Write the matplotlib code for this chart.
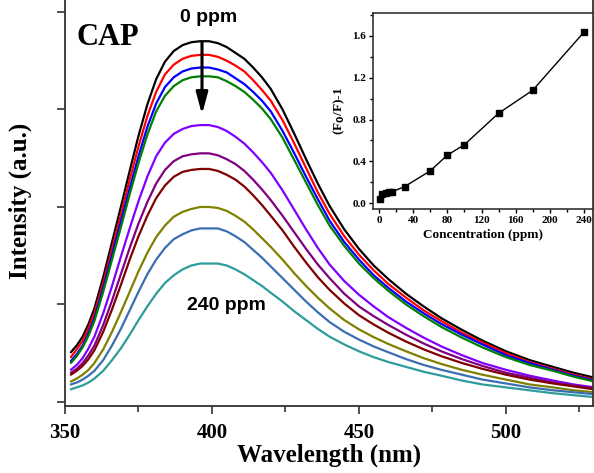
import matplotlib
matplotlib.use("Agg")
import matplotlib.pyplot as plt
from matplotlib.ticker import MultipleLocator, NullFormatter, FormatStrFormatter

serif = "Liberation Serif"
sans = "Liberation Sans"

# emission spectra, intensity in arbitrary units
wavelength = [352, 354, 356, 358, 360, 363, 366, 369, 372, 375, 378, 381, 384, 387, 390,
              393, 396, 399, 402, 405, 408, 411, 414, 417, 420, 424, 428, 432, 436, 440,
              445, 450, 455, 460, 466, 472, 478, 485, 492, 500, 508, 516, 523, 530]

i_black = [0.51, 0.58, 0.67, 0.80, 0.96, 1.28, 1.64, 2.00, 2.37, 2.73, 3.05, 3.31, 3.49, 3.60, 3.66,
           3.69, 3.70, 3.70, 3.68, 3.64, 3.58, 3.52, 3.43, 3.33, 3.21, 3.00, 2.75, 2.49, 2.24, 2.01,
           1.77, 1.57, 1.40, 1.26, 1.11, 0.98, 0.86, 0.74, 0.63, 0.52, 0.43, 0.36, 0.30, 0.25]
i_red = [0.46, 0.54, 0.63, 0.76, 0.91, 1.22, 1.57, 1.92, 2.28, 2.62, 2.93, 3.18, 3.36, 3.46, 3.52,
         3.55, 3.56, 3.56, 3.54, 3.50, 3.45, 3.39, 3.30, 3.20, 3.09, 2.89, 2.65, 2.40, 2.15, 1.93,
         1.70, 1.51, 1.35, 1.21, 1.07, 0.94, 0.83, 0.71, 0.61, 0.50, 0.41, 0.34, 0.28, 0.23]
i_blue = [0.42, 0.49, 0.58, 0.71, 0.86, 1.17, 1.51, 1.85, 2.19, 2.52, 2.82, 3.06, 3.23, 3.33, 3.39,
          3.42, 3.43, 3.43, 3.41, 3.38, 3.32, 3.26, 3.18, 3.09, 2.98, 2.78, 2.55, 2.31, 2.08, 1.86,
          1.64, 1.46, 1.30, 1.17, 1.03, 0.91, 0.80, 0.69, 0.59, 0.48, 0.40, 0.33, 0.27, 0.22]
i_green = [0.40, 0.47, 0.56, 0.68, 0.83, 1.13, 1.46, 1.79, 2.13, 2.45, 2.74, 2.98, 3.14, 3.24, 3.30,
           3.33, 3.34, 3.34, 3.33, 3.29, 3.24, 3.18, 3.10, 3.01, 2.90, 2.71, 2.48, 2.25, 2.02, 1.81,
           1.60, 1.42, 1.27, 1.14, 1.00, 0.88, 0.77, 0.66, 0.56, 0.46, 0.38, 0.32, 0.26, 0.21]
i_violet = [0.33, 0.38, 0.45, 0.55, 0.67, 0.91, 1.19, 1.49, 1.78, 2.06, 2.31, 2.52, 2.66, 2.75, 2.80,
            2.83, 2.84, 2.84, 2.82, 2.78, 2.72, 2.65, 2.56, 2.46, 2.35, 2.17, 1.97, 1.77, 1.58, 1.41,
            1.24, 1.10, 0.98, 0.87, 0.76, 0.66, 0.57, 0.48, 0.40, 0.33, 0.27, 0.22, 0.18, 0.15]
i_purple = [0.30, 0.34, 0.40, 0.48, 0.58, 0.79, 1.04, 1.31, 1.58, 1.83, 2.05, 2.24, 2.38, 2.47, 2.52,
            2.54, 2.55, 2.55, 2.53, 2.49, 2.44, 2.37, 2.28, 2.18, 2.07, 1.91, 1.74, 1.57, 1.41, 1.27,
            1.11, 0.98, 0.88, 0.79, 0.69, 0.60, 0.52, 0.44, 0.37, 0.30, 0.25, 0.20, 0.17, 0.14]
i_wine = [0.28, 0.32, 0.37, 0.44, 0.53, 0.72, 0.95, 1.20, 1.46, 1.70, 1.91, 2.09, 2.22, 2.31, 2.36,
          2.38, 2.39, 2.39, 2.37, 2.33, 2.28, 2.21, 2.12, 2.02, 1.91, 1.76, 1.59, 1.43, 1.28, 1.15,
          1.01, 0.89, 0.795, 0.71, 0.62, 0.54, 0.47, 0.40, 0.34, 0.28, 0.23, 0.19, 0.16, 0.13]
i_olive = [0.21, 0.24, 0.28, 0.33, 0.40, 0.54, 0.72, 0.92, 1.13, 1.34, 1.53, 1.69, 1.81, 1.90, 1.95,
           1.98, 2.00, 2.00, 1.99, 1.96, 1.91, 1.85, 1.77, 1.68, 1.59, 1.46, 1.32, 1.19, 1.07, 0.96,
           0.84, 0.745, 0.665, 0.595, 0.52, 0.45, 0.39, 0.33, 0.28, 0.23, 0.18, 0.15, 0.12, 0.10]
i_royal = [0.18, 0.20, 0.23, 0.27, 0.32, 0.43, 0.58, 0.75, 0.94, 1.13, 1.31, 1.46, 1.58, 1.67, 1.72,
           1.76, 1.78, 1.78, 1.78, 1.75, 1.70, 1.64, 1.56, 1.48, 1.39, 1.27, 1.15, 1.03, 0.92, 0.82,
           0.72, 0.64, 0.57, 0.51, 0.44, 0.38, 0.33, 0.28, 0.23, 0.19, 0.15, 0.12, 0.10, 0.08]
i_cyan = [0.13, 0.15, 0.17, 0.20, 0.24, 0.32, 0.43, 0.55, 0.69, 0.84, 0.98, 1.11, 1.22, 1.30, 1.36,
          1.40, 1.42, 1.42, 1.42, 1.40, 1.36, 1.31, 1.25, 1.19, 1.12, 1.03, 0.93, 0.84, 0.75, 0.67,
          0.59, 0.52, 0.46, 0.41, 0.36, 0.31, 0.27, 0.22, 0.18, 0.15, 0.12, 0.09, 0.07, 0.05]

spectra = [i_black, i_red, i_blue, i_green, i_violet, i_purple, i_wine, i_olive, i_royal, i_cyan]
colors = ["#000000", "#FF0000", "#0000FF", "#008000", "#8000FF",
          "#800080", "#800000", "#808000", "#3A6EB0", "#2E9C9C"]

# quenching curve for the inset
conc = [1, 4, 8, 12, 15, 30, 60, 80, 100, 140, 180, 240]
quench = [0.04, 0.085, 0.095, 0.105, 0.11, 0.16, 0.31, 0.46, 0.56, 0.86, 1.08, 1.635]

fig = plt.figure(figsize=(5.94, 4.73), dpi=100)
ax = fig.add_axes([65 / 594, 67 / 473, 528 / 594, 411 / 473])

for y, c in zip(spectra, colors):
    ax.plot(wavelength, y, color=c, lw=1.6, solid_joinstyle="round", solid_capstyle="round")

ax.set_xlim(350, 529.6)
ax.set_ylim(-0.041, 4.174)
ax.xaxis.set_major_locator(MultipleLocator(50))
ax.xaxis.set_minor_locator(MultipleLocator(25))
ax.yaxis.set_major_locator(MultipleLocator(1))
ax.yaxis.set_major_formatter(NullFormatter())
ax.tick_params(axis="both", which="major", direction="out", length=6, width=1.2, color="#333333")
ax.tick_params(axis="x", which="minor", direction="out", length=4, width=1.2, color="#333333")
ax.tick_params(axis="x", labelsize=15, pad=6)
for lab in ax.get_xticklabels():
    lab.set_fontfamily(serif)
    lab.set_fontweight("bold")
for s in ax.spines.values():
    s.set_linewidth(1.3)
    s.set_color("#333333")

ax.set_xlabel("Wavelength (nm)", fontsize=18, fontweight="bold", family=serif, labelpad=1)
ax.set_ylabel("Intensity (a.u.)", fontsize=18, fontweight="bold", family=serif, labelpad=14)

ax.text(354, 3.74, "CAP", fontsize=22, fontweight="bold", family=serif, va="center", ha="left")
ax.text(399, 3.94, "0 ppm", fontsize=14, fontweight="bold", family=sans, ha="center", va="center")
ax.text(405, 0.99, "240 ppm", fontsize=14, fontweight="bold", family=sans, ha="center", va="center")
ax.annotate("", xy=(396.6, 2.92), xytext=(396.6, 3.72),
            arrowprops=dict(arrowstyle="-|>,head_width=0.35,head_length=1.3", color="black", lw=2.2))

# inset: (F0/F)-1 against concentration
ins = fig.add_axes([373 / 594, (473 - 209) / 473, 220 / 594, 196 / 473])
ins.plot(conc, quench, color="black", lw=1.0, marker="s", ms=4)
ins.set_xlim(-7, 250.5)
ins.set_ylim(-0.054, 1.817)
ins.xaxis.set_major_locator(MultipleLocator(40))
ins.xaxis.set_minor_locator(MultipleLocator(20))
ins.yaxis.set_major_locator(MultipleLocator(0.4))
ins.yaxis.set_minor_locator(MultipleLocator(0.2))
ins.yaxis.set_major_formatter(FormatStrFormatter("%.1f"))
ins.tick_params(which="major", direction="out", length=3, width=1, labelsize=8, pad=2)
ins.tick_params(which="minor", direction="out", length=2, width=1)
for lab in ins.get_xticklabels() + ins.get_yticklabels():
    lab.set_fontfamily(serif)
    lab.set_fontweight("bold")
for s in ins.spines.values():
    s.set_linewidth(1.2)
    s.set_color("#333333")
ins.set_xlabel("Concentration (ppm)", fontsize=9.5, fontweight="bold", family=serif, labelpad=3)
ins.set_ylabel(r"(F$_\mathbf{0}$/F)-1", fontsize=9.5, fontweight="bold", family=serif, labelpad=4)

fig.savefig("out.png", dpi=100)
